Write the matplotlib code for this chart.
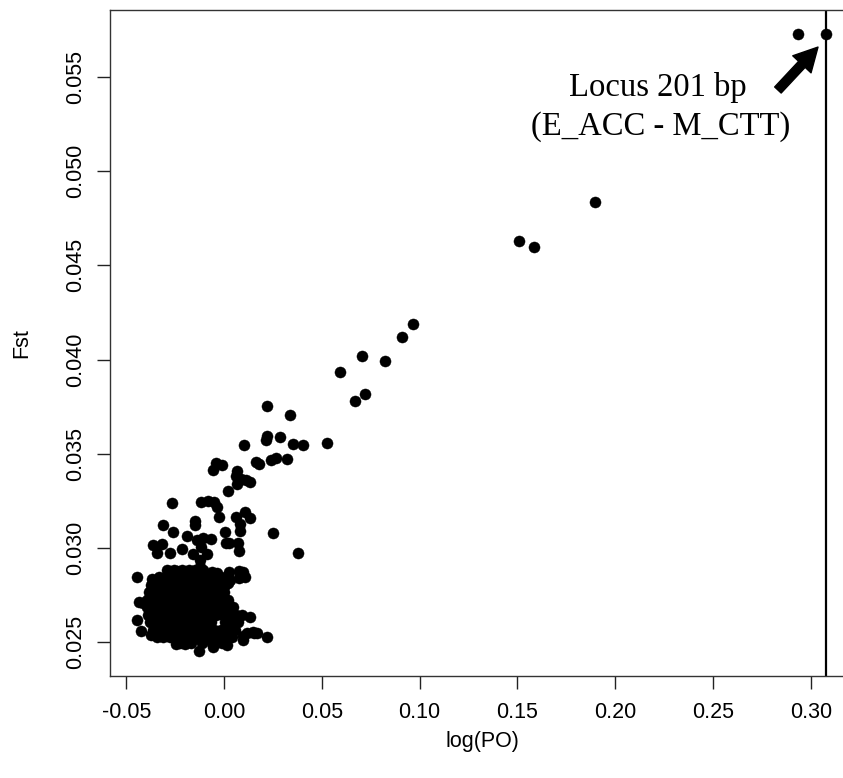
import matplotlib
matplotlib.use("Agg")
import matplotlib.pyplot as plt

# ---------------- data ----------------
# scattered (non-cluster) loci: log(PO), Fst
sparse_x = [0.3078, 0.2935, 0.1898, 0.1507, 0.1585, 0.0965, 0.0910, 0.0706, 0.0822, 0.0593,
            0.0719, 0.0672, 0.0528, 0.0218, 0.0339, 0.0402, 0.0351, 0.0286, 0.0218, 0.0216,
            0.0100, 0.0242, 0.0264, 0.0320, 0.0165, 0.0180, -0.0056, -0.0039, -0.0012, 0.0065,
            0.0061, 0.0086, 0.0110, 0.0133, 0.0068, 0.0023, -0.0266, -0.0115, -0.0083, -0.0053,
            -0.0036, -0.0028, 0.0061, 0.0108, 0.0133, -0.0150, -0.0148, -0.0310, 0.0080, 0.0082,
            0.0004, 0.0252, -0.0260, -0.0191, -0.0140, -0.0106, -0.0068, -0.0365, -0.0318, -0.0276,
            -0.0344, -0.0215, -0.0157, -0.0116, -0.0088, 0.0010, 0.0024, 0.0073, 0.0075, 0.0379,
            -0.0121, -0.0123]
sparse_y = [0.05728, 0.05728, 0.04836, 0.04631, 0.04596, 0.04189, 0.04118, 0.04019, 0.03994, 0.03932,
            0.03815, 0.03778, 0.03555, 0.03753, 0.03707, 0.03548, 0.03551, 0.03587, 0.03594, 0.03574,
            0.03544, 0.03466, 0.03475, 0.03470, 0.03454, 0.03445, 0.03413, 0.03449, 0.03441, 0.03408,
            0.03380, 0.03367, 0.03362, 0.03348, 0.03339, 0.03300, 0.03236, 0.03243, 0.03248, 0.03245,
            0.03218, 0.03163, 0.03162, 0.03188, 0.03158, 0.03142, 0.03121, 0.03121, 0.03129, 0.03091,
            0.03084, 0.03080, 0.03084, 0.03062, 0.03044, 0.03052, 0.03047, 0.03014, 0.03018, 0.02972,
            0.02974, 0.02995, 0.02967, 0.03006, 0.02969, 0.03024, 0.03024, 0.03025, 0.02982, 0.02971,
            0.02935, 0.02900]

# loci around the edge of the dense cluster
edge_x = [0.0024, 0.0075, 0.0096, 0.0106, 0.0075, 0.0020, 0.0030, -0.0061, -0.0037,
          -0.0443, -0.0368, -0.0344, -0.0310, -0.0280, -0.0242, -0.0433, -0.0413, -0.0392, -0.0361,
          -0.0443, -0.0423, -0.0375, -0.0344,
          -0.0129, -0.0058, -0.0245, -0.0198, 0.0014, 0.0099, 0.0153, 0.0218, 0.0092, 0.0133,
          0.0014, 0.0116, 0.0170, 0.0099, 0.0150]
edge_y = [0.02872, 0.02879, 0.02872, 0.02847, 0.02840, 0.02815, 0.02830, 0.02872, 0.02865,
          0.02847, 0.02836, 0.02830, 0.02812, 0.02875, 0.02875, 0.02712, 0.02709, 0.02687, 0.02670,
          0.02617, 0.02560, 0.02536, 0.02528,
          0.02454, 0.02472, 0.02489, 0.02489, 0.02486, 0.02511, 0.02546, 0.02528, 0.02642, 0.02631,
          0.02702, 0.02546, 0.02550, 0.02530, 0.02555]

# dense cluster, read row by row (Fst of the row, log(PO) of the loci in it)
cluster_row_y = [0.02880, 0.02845, 0.02805, 0.02765, 0.02725, 0.02685,
                 0.02645, 0.02605, 0.02565, 0.02525, 0.02495]
cluster_row_x = [
    [-0.0290, -0.0255, -0.0215, -0.0180, -0.0150, -0.0105],
    [-0.0330, -0.0295, -0.0260, -0.0225, -0.0190, -0.0155, -0.0120, -0.0085, -0.0050, -0.0015],
    [-0.0375, -0.0340, -0.0300, -0.0265, -0.0230, -0.0195, -0.0160, -0.0125, -0.0090, -0.0055, -0.0020, 0.0005],
    [-0.0385, -0.0350, -0.0315, -0.0280, -0.0245, -0.0210, -0.0175, -0.0140, -0.0105, -0.0070, -0.0035, 0.0000],
    [-0.0395, -0.0360, -0.0325, -0.0290, -0.0255, -0.0220, -0.0185, -0.0150, -0.0115, -0.0080, -0.0045, -0.0010, 0.0020],
    [-0.0375, -0.0340, -0.0305, -0.0270, -0.0235, -0.0200, -0.0165, -0.0130, -0.0095, -0.0060, -0.0025, 0.0010, 0.0045],
    [-0.0390, -0.0355, -0.0320, -0.0285, -0.0250, -0.0215, -0.0180, -0.0145, -0.0110, -0.0075, -0.0040, -0.0005, 0.0030, 0.0060],
    [-0.0380, -0.0345, -0.0310, -0.0275, -0.0240, -0.0205, -0.0170, -0.0135, -0.0100, -0.0065, 0.0005, 0.0040, 0.0070],
    [-0.0365, -0.0330, -0.0295, -0.0260, -0.0225, -0.0190, -0.0155, -0.0120, -0.0085, -0.0050, -0.0015, 0.0020, 0.0055],
    [-0.0310, -0.0275, -0.0240, -0.0205, -0.0170, -0.0135, -0.0100, -0.0065, -0.0030, 0.0005, 0.0040],
    [-0.0225, -0.0170, -0.0110, -0.0060, -0.0010],
]

x_ticks = [-0.05, 0.00, 0.05, 0.10, 0.15, 0.20, 0.25, 0.30]
x_tick_labels = ["-0.05", "0.00", "0.05", "0.10", "0.15", "0.20", "0.25", "0.30"]
y_ticks = [0.025, 0.030, 0.035, 0.040, 0.045, 0.050, 0.055]
y_tick_labels = ["0.025", "0.030", "0.035", "0.040", "0.045", "0.050", "0.055"]

cutoff_x = 0.3078
label_lines = ["Locus 201 bp", "(E_ACC - M_CTT)"]

# ---------------- figure ----------------
W, H = 843, 778
fig = plt.figure(figsize=(W / 100, H / 100), dpi=100)
ax = fig.add_axes([110 / W, 102 / H, 744 / W, 666 / H])
ax.set_xlim(-0.05828, 0.3221)
ax.set_ylim(0.023195, 0.058558)

all_x = list(sparse_x) + list(edge_x)
all_y = list(sparse_y) + list(edge_y)
for ry, rxs in zip(cluster_row_y, cluster_row_x):
    for rx in rxs:
        all_x.append(rx)
        all_y.append(ry)

ax.plot(all_x, all_y, linestyle="none", marker="o", markersize=8.0,
        markerfacecolor="black", markeredgecolor="black", markeredgewidth=0.3)

ax.axvline(cutoff_x, color="black", linewidth=1.6)

tick_font = {"family": ["Liberation Sans", "DejaVu Sans"], "size": 15.5}
ax.set_xticks(x_ticks)
ax.set_xticklabels(x_tick_labels, fontdict=tick_font)
ax.set_yticks(y_ticks)
ax.set_yticklabels(y_tick_labels, fontdict=tick_font, rotation=90, va="center")
ax.tick_params(axis="both", direction="out", length=9.5, width=1.0, color="#222222")
ax.tick_params(axis="x", pad=9)
ax.tick_params(axis="y", pad=8)
for s in ax.spines.values():
    s.set_linewidth(1.0)
    s.set_color("#333333")
ax.spines["right"].set_visible(False)

fig.text(482 / W, 1 - 742 / H, "log(PO)", ha="center", va="center",
         family=["Liberation Sans", "DejaVu Sans"], fontsize=15.5)
fig.text(22 / W, 1 - 343 / H, "Fst", ha="center", va="center", rotation=90,
         family=["Liberation Sans", "DejaVu Sans"], fontsize=15.5)

serif = ["Liberation Serif", "DejaVu Serif"]
ax.text(0.2219, 0.05400, label_lines[0], ha="center", va="baseline",
        family=serif, fontsize=23.5)
ax.text(0.2230, 0.05195, label_lines[1], ha="center", va="baseline",
        family=serif, fontsize=23.5)

ax.annotate("", xy=(0.3037, 0.05659), xytext=(0.2832, 0.05431),
            arrowprops=dict(arrowstyle="simple,head_width=0.9,head_length=0.85,tail_width=0.32",
                            color="black", mutation_scale=20, shrinkA=0, shrinkB=0))

fig.savefig("out.png", dpi=100)
